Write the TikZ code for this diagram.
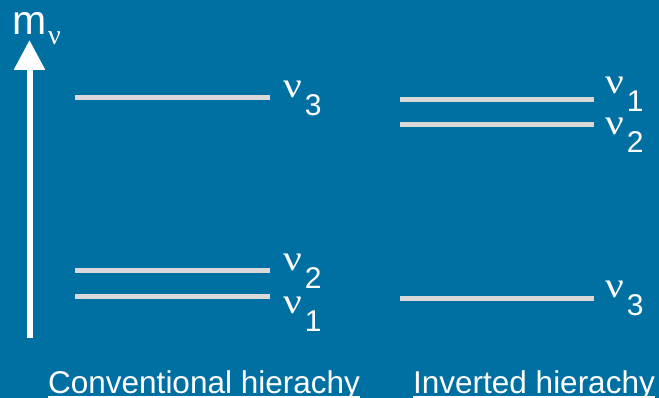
\documentclass[tikz,border=0pt]{standalone}
\usepackage{fontspec}
\setmainfont{Liberation Sans}
\newfontfamily\greekfont{Liberation Serif}
\usetikzlibrary{arrows.meta}
\definecolor{slideblue}{RGB}{0,112,163}
\definecolor{levelgray}{RGB}{217,217,217}
\newcommand{\nulabel}[1]{{\greekfont\fontsize{36}{36}\selectfont\scalebox{1.15}[1]{ν}}\kern3pt\lower18pt\hbox{\fontsize{30}{30}\selectfont #1}}

\begin{document}
\begin{tikzpicture}[x=1pt,y=-1pt,
    level/.style={levelgray, line width=5pt},
    nulab/.style={anchor=base west, inner sep=0pt, white},
    title/.style={anchor=base west, inner sep=0pt, white,
                  font=\fontsize{31.5}{32}\selectfont},
    axis/.style={white, line width=6pt, -{Triangle[width=30pt,length=30pt]}},
  ]
    \fill[slideblue] (0,0) rectangle (659,398);
    \useasboundingbox (0,0) rectangle (659,398);

    % mass axis
    \coordinate (axbot) at (29.5,338);
    \coordinate (axtop) at (29.5,40);
    \draw[axis] (axbot) -- (axtop);
    \node[nulab, font=\fontsize{41}{41}\selectfont] (mass) at (12.5,35) {m};
    \node[nulab, font=\greekfont\fontsize{28}{28}\selectfont] (masssub) at (48,45) {ν};

    % conventional hierarchy levels
    \coordinate (c3a) at (75,97.5);  \coordinate (c3b) at (270,97.5);
    \coordinate (c2a) at (75,270.5); \coordinate (c2b) at (270,270.5);
    \coordinate (c1a) at (75,296.5); \coordinate (c1b) at (270,296.5);
    \draw[level] (c3a) -- (c3b);
    \draw[level] (c2a) -- (c2b);
    \draw[level] (c1a) -- (c1b);
    \node[nulab] (c3) at (283,98)  {\nulabel{3}};
    \node[nulab] (c2) at (283,271) {\nulabel{2}};
    \node[nulab] (c1) at (283,313) {\nulabel{1}};

    % inverted hierarchy levels
    \coordinate (i1a) at (400,100);   \coordinate (i1b) at (594,100);
    \coordinate (i2a) at (400,124.5); \coordinate (i2b) at (594,124.5);
    \coordinate (i3a) at (400,298.5); \coordinate (i3b) at (594,298.5);
    \draw[level] (i1a) -- (i1b);
    \draw[level] (i2a) -- (i2b);
    \draw[level] (i3a) -- (i3b);
    \node[nulab] (i1) at (605,94)  {\nulabel{1}};
    \node[nulab] (i2) at (605,135) {\nulabel{2}};
    \node[nulab] (i3) at (605,298) {\nulabel{3}};

    % titles, underlined
    \node[title] (conv) at (48,393)  {Conventional hierachy};
    \node[title] (inv)  at (413,393) {Inverted hierachy};
    \draw[white, line width=2.5pt] ([yshift=-4pt]conv.base west) -- ([yshift=-4pt]conv.base east);
    \draw[white, line width=2.5pt] ([yshift=-4pt]inv.base west) -- ([yshift=-4pt]inv.base east);
  \end{tikzpicture}
\end{document}
